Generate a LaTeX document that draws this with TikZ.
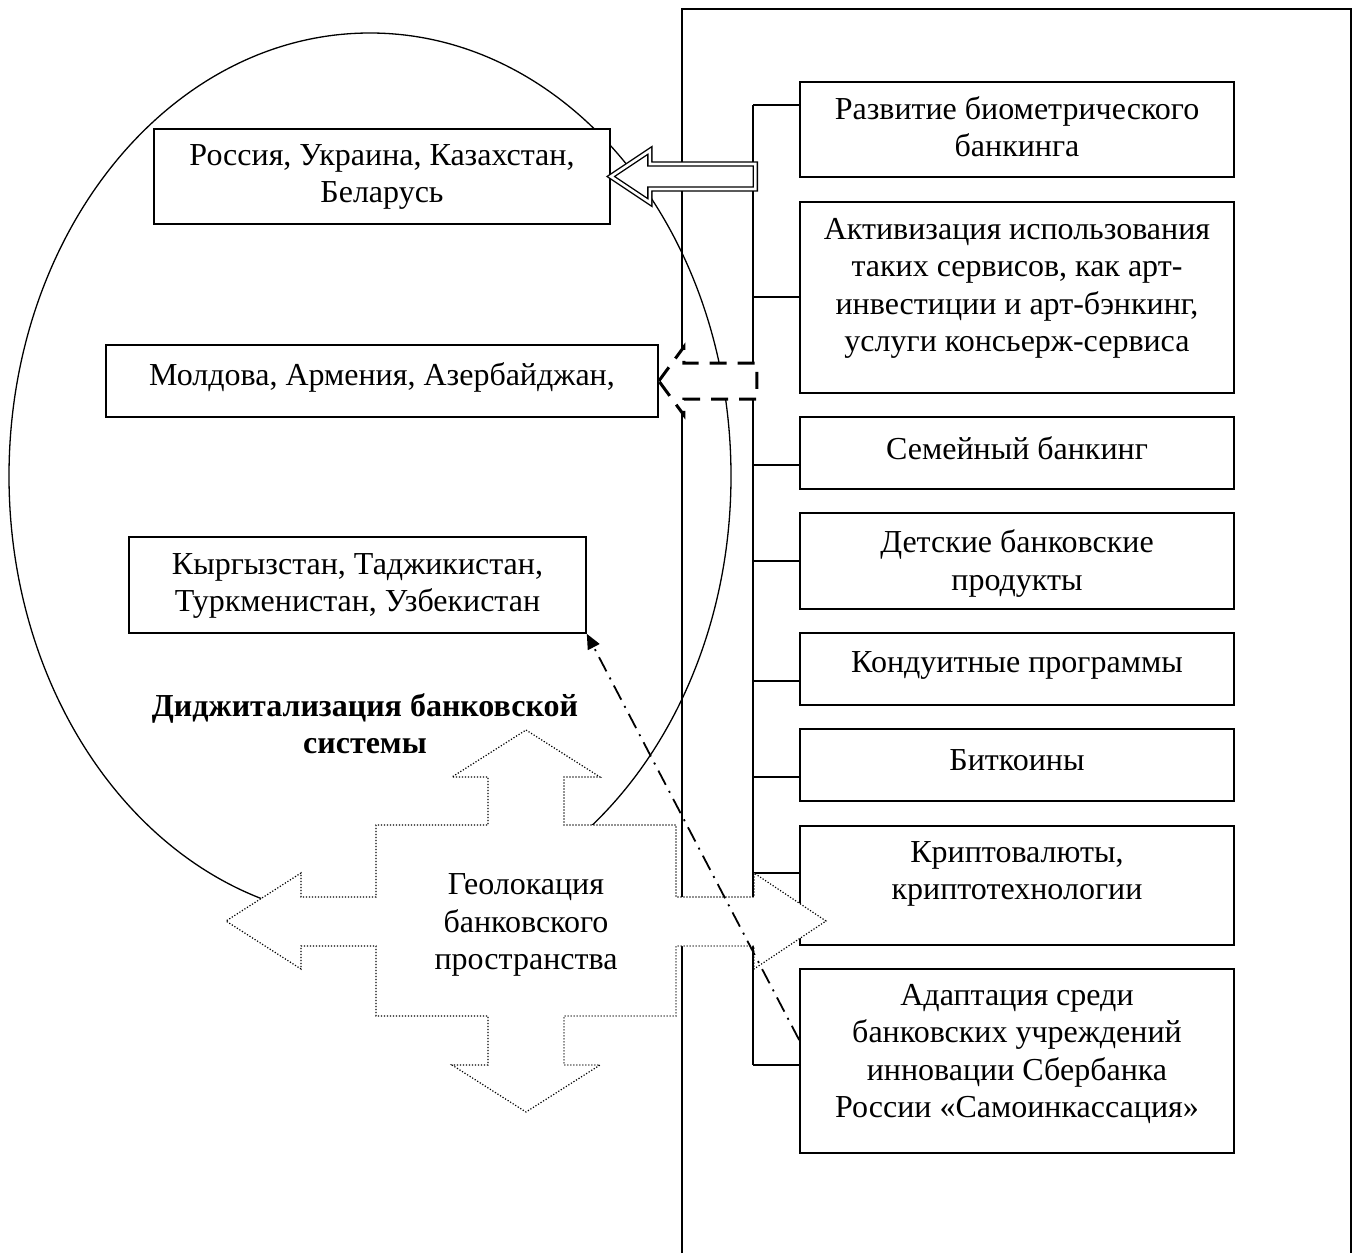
\documentclass[tikz,border=0pt]{standalone}
\usepackage{fontspec}
\setmainfont{Liberation Serif}
\usetikzlibrary{arrows.meta}
\begin{document}
\begin{tikzpicture}[x=1pt,y=-1pt,
  every node/.style={inner sep=0pt},
  frameline/.style={line width=1.6pt},
  rbox/.style={draw, fill=white, line width=1.6pt, rectangle, minimum width=434pt},
  lbox/.style={draw, fill=white, line width=1.6pt, rectangle},
  txt/.style={align=center, font=\fontsize{32}{37.3}\selectfont},
  ttl/.style={align=center, font=\fontsize{32}{37.3}\selectfont\bfseries},
  blockarrow/.style={fill=white, draw, line width=1.4pt, double=white, double distance=2.6pt, line join=miter},
  dasharrow/.style={fill=white, draw, line width=3pt, dash pattern=on 17pt off 11pt},
  dotarrow/.style={fill=white, draw, line width=1.2pt, dash pattern=on 1.2pt off 1.8pt},
  dashdotlink/.style={line width=1.8pt, dash pattern=on 16pt off 7pt on 2pt off 7pt,
    -{Triangle[length=15pt,width=13pt]}}
]
\useasboundingbox (0,0) rectangle (1359,1253);

% oval around the country groups
\draw[line width=1.3pt] (370,476) ellipse [x radius=361pt, y radius=443pt];

% open frame on the right
\draw[frameline] (682,1253) -- (682,9) -- (1351,9) -- (1351,1253);

% right column of boxes
\node[rbox, minimum height=95pt]  (r1) at (1017,129.5) {};
\node[rbox, minimum height=191pt] (r2) at (1017,297.5) {};
\node[rbox, minimum height=72pt]  (r3) at (1017,453) {};
\node[rbox, minimum height=96pt]  (r4) at (1017,561) {};
\node[rbox, minimum height=72pt]  (r5) at (1017,669) {};
\node[rbox, minimum height=72pt]  (r6) at (1017,765) {};
\node[rbox, minimum height=119pt] (r7) at (1017,885.5) {};
\node[rbox, minimum height=184pt] (r8) at (1017,1061) {};

% bracket joining the right boxes
\coordinate (c1) at (753,105);
\coordinate (c2) at (753,297);
\coordinate (c3) at (753,465);
\coordinate (c4) at (753,561);
\coordinate (c5) at (753,681);
\coordinate (c6) at (753,777);
\coordinate (c7) at (753,873);
\coordinate (c8) at (753,1065);
\draw[frameline] (c1) -- (c8);
\foreach \i in {1,...,8} \draw[frameline] (c\i) -- (c\i -| r\i.west);

\node[txt] (t1) at (1017,127) {Развитие биометрического\\банкинга};
\node[txt] (t2) at (1017,288.5) {Активизация использования\\таких сервисов, как арт-\\инвестиции и арт-бэнкинг,\\услуги консьерж-сервиса};
\node[txt] (t3) at (1017,448) {Семейный банкинг};
\node[txt] (t4) at (1017,563.5) {Детские банковские\\продукты};
\node[txt] (t5) at (1017,665) {Кондуитные программы};
\node[txt] (t6) at (1017,760) {Биткоины};
\node[txt] (t7) at (1017,874) {Криптовалюты,\\криптотехнологии};
\node[txt] (t8) at (1017,1054) {Адаптация среди\\банковских учреждений\\инновации Сбербанка\\России «Самоинкассация»};

% country groups
\node[lbox, minimum width=456pt, minimum height=95pt] (ru) at (382,176.5) {};
\node[txt] at (382,177) {Россия, Украина, Казахстан,\\Беларусь};
\node[lbox, minimum width=552pt, minimum height=72pt] (md) at (382,381) {};
\node[txt] at (382,377) {Молдова, Армения, Азербайджан,};
\node[lbox, minimum width=457pt, minimum height=96pt] (kg) at (357.5,585) {};
\node[txt] at (357.5,586) {Кыргызстан, Таджикистан,\\Туркменистан, Узбекистан};

% block arrows pointing at the groups
\draw[blockarrow] (ru.east) -- ++(39,-26) -- ++(0,13.5) -- ++(105.5,0) -- ++(0,25)
  -- ++(-105.5,0) -- ++(0,13.5) -- cycle;
\draw[dasharrow] (md.east) -- ++(25,-34) -- ++(0,16) -- ++(73,0) -- ++(0,36)
  -- ++(-73,0) -- ++(0,16) -- cycle;

% four-way arrow
\draw[dotarrow] (526,730) -- (600,777) -- (564,777) -- (564,825) -- (676,825)
  -- (676,897) -- (754,897) -- (754,873) -- (826,921) -- (754,969) -- (754,946)
  -- (676,946) -- (676,1016) -- (564,1016) -- (564,1065) -- (600,1065)
  -- (526,1112) -- (452,1065) -- (488,1065) -- (488,1016) -- (376,1016)
  -- (376,946) -- (301,946) -- (301,969) -- (226,921) -- (301,873) -- (301,897)
  -- (376,897) -- (376,825) -- (488,825) -- (488,777) -- (452,777) -- cycle;
\node[txt] (geo) at (526,925) {Геолокация\\банковского\\пространства};

\node[ttl] (title) at (365,724) {Диджитализация банковской\\системы};

% link from the last box to the third group
\draw[dashdotlink] ([yshift=21pt]r8.west) -- (kg.south east);
\end{tikzpicture}
\end{document}
